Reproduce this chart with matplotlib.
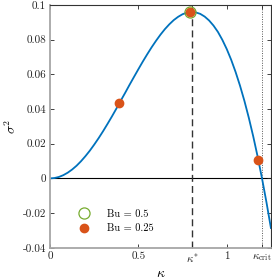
import matplotlib
matplotlib.use("Agg")
import matplotlib.pyplot as plt

# growth rate curve
kappa = [0.0, 0.025, 0.05, 0.075, 0.10, 0.125, 0.15, 0.175, 0.20, 0.225,
         0.25, 0.275, 0.30, 0.325, 0.35, 0.375, 0.40, 0.425, 0.45, 0.475,
         0.50, 0.525, 0.55, 0.575, 0.60, 0.625, 0.65, 0.675, 0.70, 0.725,
         0.75, 0.775, 0.80, 0.825, 0.85, 0.875, 0.90, 0.925, 0.95, 0.975,
         1.00, 1.025, 1.05, 1.075, 1.10, 1.125, 1.15, 1.175, 1.20, 1.225,
         1.25]
sigma2 = [0.0, 0.00021, 0.00083, 0.00186, 0.0033, 0.00512, 0.0073, 0.00988,
          0.0128, 0.01598, 0.0195, 0.02323, 0.0272, 0.03139, 0.0357, 0.04018,
          0.0448, 0.04933, 0.0540, 0.05852, 0.0630, 0.06740, 0.0716, 0.07564,
          0.0794, 0.08292, 0.0861, 0.08888, 0.0913, 0.09321, 0.0947, 0.09560,
          0.0960, 0.09573, 0.0949, 0.09334, 0.0911, 0.08815, 0.0845, 0.07993,
          0.0746, 0.06845, 0.0614, 0.05351, 0.0447, 0.03492, 0.0242, 0.01251,
          -0.0002, -0.01387, -0.0286]

kappa_star = 0.803
kappa_crit = 1.20

bu05_k = [0.79]
bu05_s = [0.0958]
bu025_k = [0.39, 0.79, 1.178]
bu025_s = [0.0434, 0.0958, 0.0108]

xticks = [0, 0.5, kappa_star, 1, kappa_crit]
xticklabels = ["0", "0.5", r"$\kappa^{*}$", "1", r"$\kappa_{\mathrm{crit}}$"]
yticks = [-0.04, -0.02, 0, 0.02, 0.04, 0.06, 0.08, 0.1]
yticklabels = ["-0.04", "-0.02", "0", "0.02", "0.04", "0.06", "0.08", "0.1"]

plt.rcParams["mathtext.fontset"] = "cm"
plt.rcParams["axes.unicode_minus"] = False
plt.rcParams["font.family"] = ["cmr10", "DejaVu Serif"]

fig = plt.figure(figsize=(2.72, 2.79), dpi=100)
ax = fig.add_axes([0.184, 0.112, 0.812, 0.870])

ax.axhline(0, color="black", lw=0.8, zorder=1)
ax.axvline(kappa_star, color="#333333", lw=1.0, ls=(0, (5, 3)), zorder=1)
ax.axvline(kappa_crit, color="#555555", lw=0.7, ls=(0, (1, 1.5)), zorder=1)
ax.plot(kappa, sigma2, color="#0072BD", lw=1.3, zorder=2)

ax.plot(bu05_k, bu05_s, "o", ms=8, mfc="none", mec="#77AC30", mew=0.9,
        zorder=3, label="Bu = 0.5")
ax.plot(bu025_k, bu025_s, "o", ms=6, mfc="#D95319", mec="#D95319",
        zorder=4, label="Bu = 0.25")

ax.set_xlim(0, 1.25)
ax.set_ylim(-0.04, 0.1)
ax.set_xticks(xticks)
ax.set_xticklabels(xticklabels, fontsize=8)
ax.set_yticks(yticks)
ax.set_yticklabels(yticklabels, fontsize=8)
ax.tick_params(direction="in", length=3, width=0.6, top=True, right=True,
               colors="#222222", pad=3)

for side in ("left", "bottom"):
    ax.spines[side].set_color("#a6a6a6")
    ax.spines[side].set_linewidth(1.3)
for side in ("top", "right"):
    ax.spines[side].set_color("#333333")
    ax.spines[side].set_linewidth(0.8)

ax.set_xlabel(r"$\kappa$", fontsize=10, labelpad=2)
ax.set_ylabel(r"$\sigma^2$", fontsize=10, labelpad=3)

leg = ax.legend(loc="lower left", bbox_to_anchor=(0.075, 0.03), frameon=False,
                fontsize=7.5, handletextpad=1.2, borderaxespad=0.3,
                labelspacing=0.45)

fig.savefig("out.png", dpi=100)
